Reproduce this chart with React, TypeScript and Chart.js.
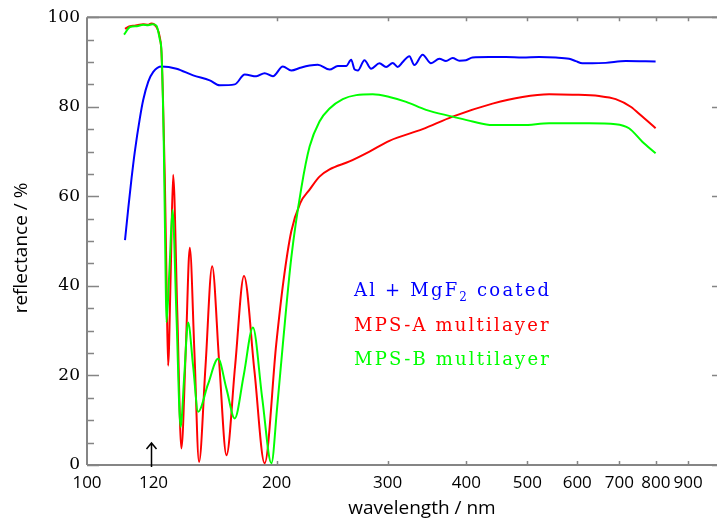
import React, { useEffect, useRef } from "react";
import { Chart, registerables } from "chart.js";

Chart.register(...registerables);

// ---- data (wavelength in nm, reflectance in %) ----
const xTickValues = [100, 200, 300, 400, 500, 600, 700, 800, 900];
const yTickStep = 20;
const yMinorStep = 5;

const blueWavelength = [114.9, 116.3, 117.7, 119.1, 121.3, 122.8, 125.1, 127.4, 131.3, 138.7, 147.4, 156.6, 162.5, 171.6, 178, 185.7, 191.4, 197.3, 204.6, 211, 218, 225.6, 232.5, 242.7, 250.1, 257.9, 262.6, 266, 269.1, 275.7, 282.5, 291.2, 298.4, 305.7, 311.3, 317.1, 324.9, 330.8, 341, 351.6, 362.5, 371.4, 380.5, 390, 399.5, 409.3, 435, 462.3, 491.2, 522, 554.8, 582.4, 596.7, 611.4, 634.2, 665.8, 716.4, 799];
const blueReflectance = [50.2, 57.4, 64.1, 70, 77.4, 81.5, 85.6, 87.8, 89.0, 88.5, 87.0, 85.9, 84.8, 85.0, 87.2, 86.8, 87.5, 86.8, 89.0, 88.1, 88.7, 89.2, 89.4, 88.3, 89.1, 89.1, 90.5, 88.3, 88.1, 90.4, 88.5, 89.7, 88.9, 89.8, 88.9, 90.0, 91.3, 89.3, 91.6, 89.7, 90.7, 90.2, 90.9, 90.3, 90.4, 91.0, 91.1, 91.1, 91.0, 91.1, 91.0, 90.7, 90.2, 89.7, 89.7, 89.8, 90.2, 90.1];

const redWavelength = [114.9, 117, 119, 121, 122.8, 125, 126.5, 128.9, 130.5, 131.3, 132, 132.9, 133.7, 134.5, 135.8, 137, 139.1, 141.2, 143.5, 145.6, 148.1, 150.6, 154.2, 158, 162.1, 166.5, 171.8, 177.5, 184.4, 191.4, 199.7, 205, 211, 218, 225.6, 233.9, 242.7, 261, 280.8, 302, 341, 380.5, 440.2, 491.2, 541.5, 589.4, 649.8, 690.6, 729.5, 761.1, 799];
const redReflectance = [97.4, 98.0, 98.1, 98.3, 98.4, 98.3, 98.6, 97.8, 95.5, 92, 82, 64, 42, 22.2, 43, 64.8, 34, 3.7, 26, 48.5, 25, 0.7, 22, 44.4, 23, 2.2, 22, 42.2, 21, 0.4, 27, 41, 52.2, 58.5, 61.5, 64.4, 66, 67.8, 70, 72.4, 75, 77.8, 80.7, 82.2, 82.8, 82.7, 82.4, 81.7, 80, 77.8, 75.2];

const greenWavelength = [114.5, 117, 120, 122.8, 125, 127, 128.9, 130.5, 131.3, 132.4, 133.3, 133.7, 135.2, 136.7, 138.7, 140.8, 142.7, 144.7, 147.4, 150.1, 155.6, 161.5, 166.5, 171.6, 177.3, 183.4, 189.7, 196.2, 200.4, 204.6, 211, 218.9, 225.6, 233.9, 242.7, 254.7, 267.5, 284.2, 302, 321.1, 345.3, 380.5, 409.3, 440.2, 491.2, 541.5, 626.5, 690.6, 725, 761.1, 799];
const greenReflectance = [96.1, 97.8, 98.0, 98.3, 98.2, 98.4, 98.1, 95, 92.2, 71.5, 41.9, 31.9, 44, 57, 33, 8.5, 20, 31.8, 22, 11.9, 18, 23.7, 17, 10.4, 20, 30.7, 15, 0.4, 13, 27, 46.3, 61.9, 71.1, 76.7, 79.6, 81.7, 82.6, 82.8, 82.2, 81.1, 79.3, 77.8, 76.7, 75.9, 75.9, 76.3, 76.3, 76.1, 75.2, 72.2, 69.6];

const seriesNames = ["Al + MgF2 coated", "MPS-A multilayer", "MPS-B multilayer"];
const seriesColors = ["#0000ff", "#ff0000", "#00ff00"];

const arrowWavelength = 126.5;
const arrowLabel = "120";
const xTitle = "wavelength / nm";
const yTitle = "reflectance / %";

const toPoints = (xs: number[], ys: number[]) => xs.map((x, i) => ({ x, y: ys[i] }));

export default function App() {
  const canvasRef = useRef<HTMLCanvasElement>(null);

  useEffect(() => {
    document.body.style.margin = "0";
    const canvas = canvasRef.current;
    if (!canvas) return;
    const AXIS = "#858585";
    const SANS = "'Open Sans', sans-serif";
    const SERIF = "'DejaVu Serif', serif";

    const decorations = {
      id: "decorations",
      beforeDatasetsDraw(chart: any) {
        const { ctx, chartArea: a, scales } = chart;
        const xs = scales.x;
        const ys = scales.y;
        ctx.save();
        ctx.strokeStyle = AXIS;
        ctx.lineWidth = 2;
        ctx.beginPath();
        ctx.moveTo(a.left, a.top);
        ctx.lineTo(a.right, a.top);
        ctx.moveTo(a.left, a.top);
        ctx.lineTo(a.left, a.bottom);
        ctx.moveTo(a.left, a.bottom);
        ctx.lineTo(a.right, a.bottom);
        ctx.stroke();
        ctx.lineWidth = 1.5;
        ctx.beginPath();
        for (let v = 0; v <= 100; v += yMinorStep) {
          const py = Math.round(ys.getPixelForValue(v)) + 0.5;
          const major = v % yTickStep === 0;
          ctx.moveTo(a.left, py);
          ctx.lineTo(a.left + (major ? 12 : 7), py);
          if (major) {
            ctx.moveTo(a.right, py);
            ctx.lineTo(a.right - 5, py);
          }
        }
        for (const v of xTickValues) {
          if (v === xTickValues[0]) continue;
          const px = Math.round(xs.getPixelForValue(v)) + 0.5;
          ctx.moveTo(px, a.bottom);
          ctx.lineTo(px, a.bottom - 4);
          ctx.moveTo(px, a.top);
          ctx.lineTo(px, a.top + 4);
        }
        ctx.stroke();
        ctx.restore();
      },
      afterDatasetsDraw(chart: any) {
        const { ctx, chartArea: a, scales } = chart;
        const xs = scales.x;
        ctx.save();
        // arrow annotation
        const ax = Math.round(xs.getPixelForValue(arrowWavelength)) + 0.5;
        ctx.strokeStyle = "#000";
        ctx.lineWidth = 1.5;
        ctx.beginPath();
        ctx.moveTo(ax, a.bottom + 2);
        ctx.lineTo(ax, a.bottom - 22);
        ctx.moveTo(ax - 5, a.bottom - 16);
        ctx.lineTo(ax, a.bottom - 22);
        ctx.lineTo(ax + 5, a.bottom - 16);
        ctx.stroke();
        ctx.fillStyle = "#000";
        ctx.font = `17px ${SANS}`;
        ctx.textAlign = "center";
        ctx.textBaseline = "middle";
        ctx.fillText(arrowLabel, ax + 2, a.bottom + 18);

        // axis titles
        ctx.font = `19px ${SANS}`;
        ctx.fillText(xTitle, 422, 509);
        ctx.save();
        ctx.translate(22, 248);
        ctx.rotate(-Math.PI / 2);
        ctx.fillText(yTitle, 0, 0);
        ctx.restore();

        // legend texts
        ctx.textAlign = "left";
        ctx.textBaseline = "alphabetic";
        (ctx as any).letterSpacing = "2.2px";
        const lx = 354;
        const baselines = [296, 331, 365];
        const mainFont = `18px ${SERIF}`;
        const subFont = `12px ${SERIF}`;
        seriesNames.forEach((name, i) => {
          ctx.fillStyle = seriesColors[i];
          const m = name.match(/^(.*F)2( .*)$/);
          if (m) {
            ctx.font = mainFont;
            ctx.fillText(m[1], lx, baselines[i]);
            let x = lx + ctx.measureText(m[1]).width;
            ctx.font = subFont;
            ctx.fillText("2", x, baselines[i] + 5);
            x += ctx.measureText("2").width;
            ctx.font = mainFont;
            ctx.fillText(m[2], x, baselines[i]);
          } else {
            ctx.font = mainFont;
            ctx.fillText(name, lx, baselines[i]);
          }
        });
        ctx.restore();
      },
    };

    const mk = (xs: number[], ys: number[], i: number) => ({
      label: seriesNames[i],
      data: toPoints(xs, ys),
      borderColor: seriesColors[i],
      backgroundColor: seriesColors[i],
      borderWidth: 2,
      pointRadius: 0,
      tension: 0.4,
      cubicInterpolationMode: "monotone" as const,
      fill: false,
    });

    const chart = new Chart(canvas, {
      type: "line",
      data: {
        datasets: [
          mk(greenWavelength, greenReflectance, 2),
          mk(redWavelength, redReflectance, 1),
          mk(blueWavelength, blueReflectance, 0),
        ],
      },
      options: {
        responsive: false,
        devicePixelRatio: 1,
        animation: false,
        events: [],
        layout: { padding: { top: 14, right: 0, left: 0, bottom: 0 } },
        plugins: { legend: { display: false }, tooltip: { enabled: false }, title: { display: false } },
        scales: {
          x: {
            type: "logarithmic",
            min: 100,
            max: 1000,
            grid: { display: false, drawTicks: false },
            border: { display: false },
            afterBuildTicks: (scale: any) => {
              scale.ticks = xTickValues.map((value) => ({ value }));
            },
            afterFit: (scale: any) => {
              scale.height = 56;
            },
            ticks: {
              autoSkip: false,
              maxRotation: 0,
              padding: 8,
              color: "#000",
              font: { family: SANS, size: 17 },
              callback: (value: any) => String(value),
            },
          },
          y: {
            type: "linear",
            min: 0,
            max: 100,
            grid: { display: false, drawTicks: false },
            border: { display: false },
            afterFit: (scale: any) => {
              scale.width = 87;
            },
            ticks: {
              stepSize: yTickStep,
              padding: 7,
              color: "#000",
              font: { family: SERIF, size: 17 },
            },
          },
        },
      },
      plugins: [decorations],
    });

    return () => chart.destroy();
  }, []);

  return (
    <div style={{ position: "absolute", left: 0, top: 0, width: 717, height: 521, background: "#fff" }}>
      <canvas ref={canvasRef} width={717} height={521} style={{ display: "block" }} />
    </div>
  );
}
